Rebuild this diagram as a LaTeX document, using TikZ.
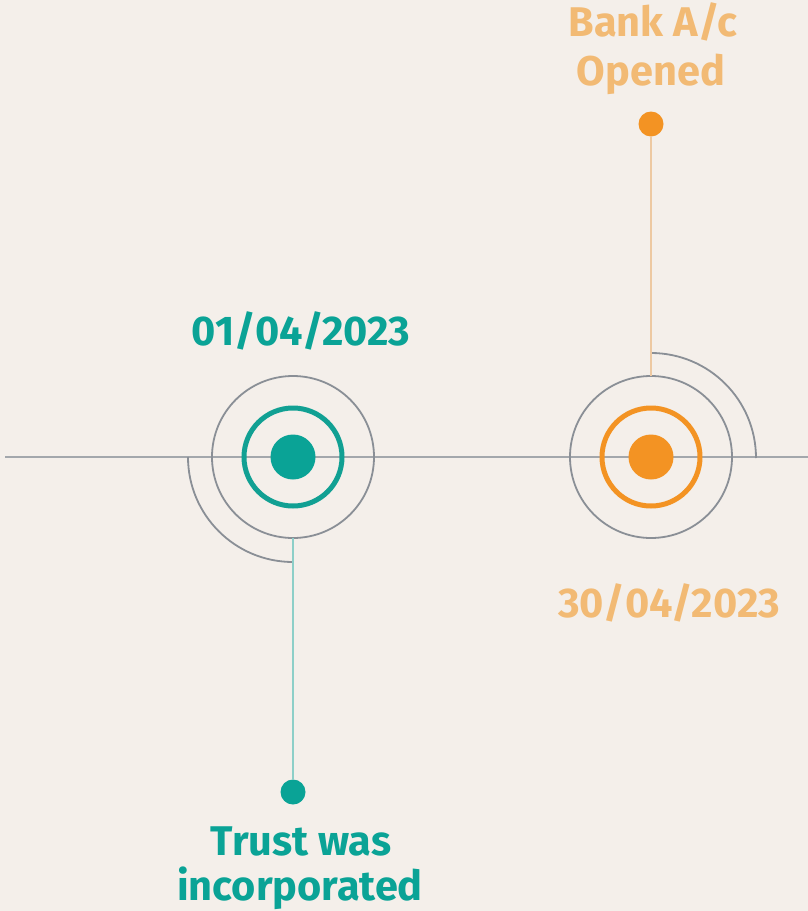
\documentclass[tikz,border=0pt]{standalone}
\usepackage{fontspec}
\setmainfont{Fira Sans}
\definecolor{bg}{HTML}{F4EFEA}
\definecolor{tealc}{HTML}{0AA396}
\definecolor{tealring}{HTML}{11A093}
\definecolor{teallight}{HTML}{8DCFC8}
\definecolor{orangec}{HTML}{F39323}
\definecolor{orangetext}{HTML}{F2BA74}
\definecolor{orangelight}{HTML}{EDC9A2}
\definecolor{grayc}{HTML}{8A8F96}
\definecolor{grayline}{HTML}{A3A7AC}
\tikzset{
  grayring/.style={circle, draw=grayc, line width=1.8pt, minimum size=162pt, inner sep=0pt, outer sep=0pt},
  colring/.style={circle, draw=#1, line width=5pt, minimum size=98pt, inner sep=0pt, outer sep=0pt},
  bigdot/.style={circle, fill=#1, minimum size=45pt, inner sep=0pt, outer sep=0pt},
  smalldot/.style={circle, fill=#1, minimum size=25pt, inner sep=0pt, outer sep=0pt},
  lbl/.style={text=#1, font=\fontsize{41.5}{48}\selectfont\bfseries, anchor=base, inner sep=0pt, align=center},
  arcline/.style={draw=grayc, line width=1.8pt},
}
\begin{document}
\begin{tikzpicture}[x=1pt,y=-1pt]
\fill[bg] (0,0) rectangle (808,911);
\useasboundingbox (0,0) rectangle (808,911);
% axis
\coordinate (axL) at (5,457);
\coordinate (axR) at (808,457);
\draw[grayline, line width=2pt] (axL) -- (axR);
% left marker
\node[grayring] (lgray) at (293,457) {};
\node[colring=tealring] (lring) at (293,457) {};
\node[bigdot=tealc] (ldot) at (293,457) {};
\draw[arcline] (188,457) arc[start angle=180, end angle=90, radius=105];
\node[smalldot=tealc] (tdot) at (293,792) {};
\draw[teallight, line width=2pt] (lgray.south) -- (tdot.north);
% right marker
\node[grayring] (rgray) at (651,457) {};
\node[colring=orangec] (rring) at (651,457) {};
\node[bigdot=orangec] (rdot) at (651,457) {};
\draw[arcline] (651,353) arc[start angle=270, end angle=360, radius=105];
\node[smalldot=orangec] (odot) at (651,124) {};
\draw[orangelight, line width=2pt] (rgray.north) -- (odot.south);
% labels
\node[lbl=tealc] (d1) at (301,345) {01/04/2023};
\node[lbl=orangetext] (d2) at (669,617) {30/04/2023};
\node[lbl=orangetext] (b1) at (653,36) {Bank A/c};
\node[lbl=orangetext] (b2) at (651,85) {Opened};
\node[lbl=tealc] (t1) at (301,855) {Trust was};
\node[lbl=tealc] (t2) at (300,900) {incorporated};
\end{tikzpicture}
\end{document}
